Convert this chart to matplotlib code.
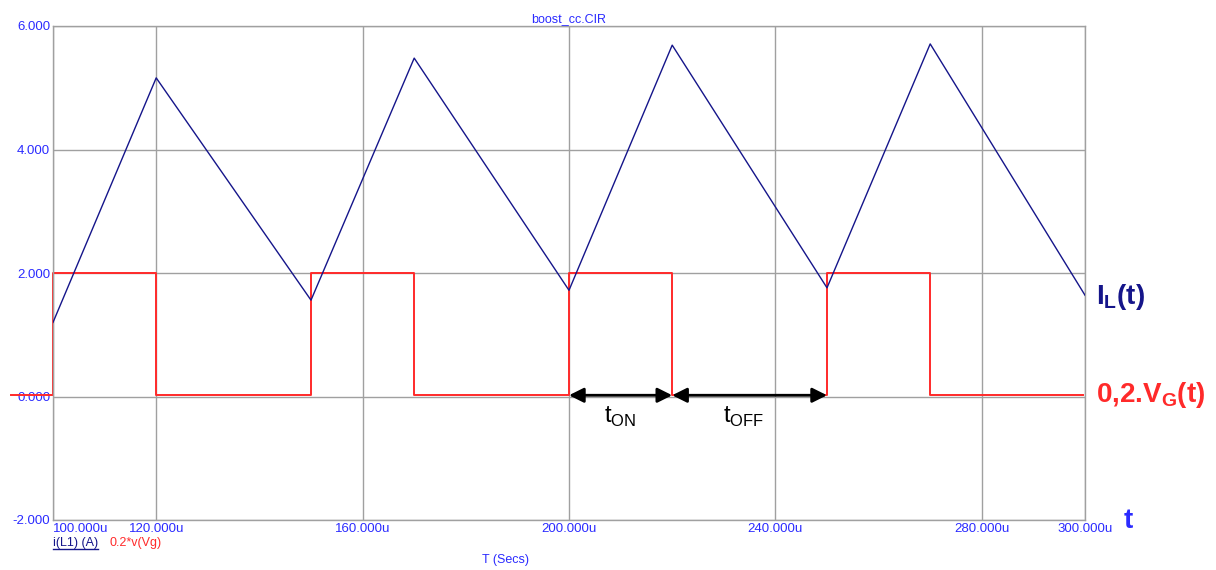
import numpy as np
import matplotlib.pyplot as plt
from matplotlib.lines import Line2D

plt.rcParams['font.family'] = ['Liberation Sans', 'DejaVu Sans']

# inductor current i(L1), corner points (time in us, current in A)
t_il = [100, 120, 150, 170, 200, 220, 250, 270, 300]
il = [1.20, 5.16, 1.56, 5.48, 1.72, 5.69, 1.76, 5.71, 1.64]

# gate signal 0.2*v(Vg)
t_vg = [91.8, 100, 100, 120, 120, 150, 150, 170, 170, 200, 200, 220, 220,
        250, 250, 270, 270, 299.6]
vg = [0.02, 0.02, 2.0, 2.0, 0.02, 0.02, 2.0, 2.0, 0.02, 0.02, 2.0, 2.0, 0.02,
      0.02, 2.0, 2.0, 0.02, 0.02]

xticks = [100, 120, 160, 200, 240, 280, 300]
yticks = [-2, 0, 2, 4, 6]

navy = '#15158a'
red = '#ff2a2a'
blue = '#2b2bff'
grid = '#a0a0a0'

fig = plt.figure(figsize=(12.16, 5.70), dpi=100)
ax = fig.add_axes([53 / 1216, 50 / 570, 1032 / 1216, 494 / 570])

for x in xticks:
    ax.axvline(x, color=grid, lw=1, zorder=0)
for y in yticks:
    ax.axhline(y, color=grid, lw=1, zorder=0)

ax.plot(t_vg, vg, color=red, lw=1.4, clip_on=False, zorder=2)
ax.plot(t_il, il, color=navy, lw=1.0, zorder=3)

ax.set_xlim(100, 300)
ax.set_ylim(-2, 6)
for s in ax.spines.values():
    s.set_color(grid)
    s.set_linewidth(1)
ax.tick_params(length=0, colors=blue, labelsize=9.5)
ax.set_xticks(xticks)
ax.set_xticklabels(['%.3fu' % v for v in xticks])
ax.set_yticks(yticks)
ax.set_yticklabels(['%.3f' % v for v in yticks])
labs = ax.get_xticklabels()
labs[0].set_ha('left')
ax.tick_params(axis='x', pad=2)
ax.tick_params(axis='y', pad=2)

ax.set_title('boost_cc.CIR', fontsize=9, color=blue, pad=3)
fig.text(505 / 1216, 10 / 570, 'T (Secs)', fontsize=9, color=blue,
         ha='center', va='center')

# trace legend
leg = fig.text(53 / 1216, 27 / 570, 'i(L1) (A)', fontsize=9, color=navy,
               ha='left', va='center')
fig.text(110 / 1216, 27 / 570, '0.2*v(Vg)', fontsize=9, color=red,
         ha='left', va='center')
fig.canvas.draw()
bb = leg.get_window_extent().transformed(fig.transFigure.inverted())
fig.add_artist(Line2D([bb.x0, bb.x1], [bb.y0, bb.y0], color=navy, lw=1,
                      transform=fig.transFigure))

# annotations
fig.text(1096 / 1216, (570 - 297) / 570, r'I$_\mathregular{L}$(t)',
         fontsize=20, fontweight='bold', color=navy, ha='left', va='center')
fig.text(1096 / 1216, (570 - 395) / 570, r'0,2.V$_\mathregular{G}$(t)',
         fontsize=20, fontweight='bold', color=red, ha='left', va='center')
fig.text(1124 / 1216, (570 - 521) / 570, 't', fontsize=20,
         fontweight='bold', color=blue, ha='left', va='center')

arrow = dict(arrowstyle='<|-|>', color='black', lw=2, mutation_scale=22,
             shrinkA=0, shrinkB=0)
ax.annotate('', xy=(200, 0.02), xytext=(220, 0.02), arrowprops=arrow)
ax.annotate('', xy=(220, 0.02), xytext=(250, 0.02), arrowprops=arrow)
ax.text(210, -0.33, r't$_\mathregular{ON}$', fontsize=17, ha='center',
        va='center')
ax.text(233.8, -0.33, r't$_\mathregular{OFF}$', fontsize=17, ha='center',
        va='center')

fig.savefig('out.png', dpi=100)
